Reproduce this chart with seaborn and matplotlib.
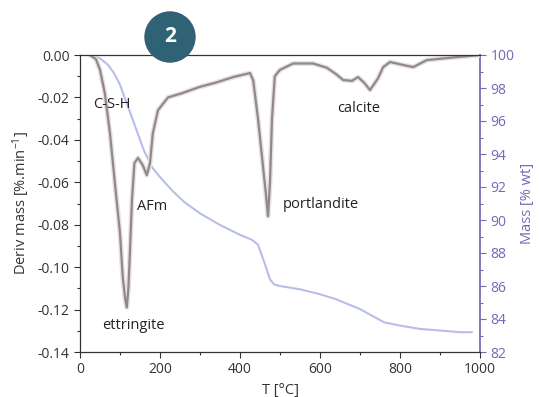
import numpy as np
import pandas as pd
import seaborn as sns
import matplotlib
matplotlib.use("Agg")
import matplotlib.pyplot as plt
from matplotlib.patches import Ellipse

# ---- data ----
deriv_T = [25, 40, 50, 62, 75, 87, 100, 107, 113, 117, 121, 125, 130, 136, 145,
           157, 167, 175, 182, 195, 220, 255, 300, 340, 383, 425, 433, 445,
           455, 465, 470, 475, 480, 487, 500, 533, 583, 617, 640, 658, 680,
           695, 710, 725, 745, 758, 775, 808, 833, 867, 925, 1000]
deriv_val = [0.0, -0.002, -0.007, -0.018, -0.037, -0.060, -0.084, -0.105, -0.115,
             -0.119, -0.110, -0.092, -0.068, -0.051, -0.0485, -0.052, -0.0566,
             -0.051, -0.037, -0.026, -0.020, -0.018, -0.015, -0.013, -0.0104,
             -0.0085, -0.012, -0.030, -0.048, -0.066, -0.076, -0.060, -0.030,
             -0.010, -0.007, -0.004, -0.004, -0.006, -0.009, -0.0118, -0.0122,
             -0.0104, -0.013, -0.0165, -0.011, -0.0057, -0.0033, -0.0047,
             -0.0057, -0.0024, -0.0013, 0.0]

mass_T = [25, 50, 70, 85, 100, 115, 130, 145, 160, 180, 200, 230, 260, 300, 350,
          400, 430, 445, 460, 475, 485, 500, 550, 600, 640, 670, 700, 730, 760,
          800, 850, 900, 950, 980]
mass_val = [100, 99.8, 99.4, 98.9, 98.2, 97.2, 96.2, 95.2, 94.2, 93.2, 92.6, 91.8,
            91.1, 90.4, 89.7, 89.1, 88.8, 88.5, 87.5, 86.4, 86.1, 86.0, 85.8, 85.5,
            85.2, 84.9, 84.6, 84.2, 83.8, 83.6, 83.4, 83.3, 83.2, 83.2]

labels = ["C-S-H", "AFm", "ettringite", "portlandite", "calcite"]
label_T = [80, 142, 133, 507, 697]
label_y = [-0.0235, -0.0715, -0.1275, -0.0705, -0.0250]
label_ha = ["center", "left", "center", "left", "center"]

sns.set_theme(style="ticks")
plt.rcParams['font.family'] = ['Open Sans', 'DejaVu Sans']
plt.rcParams['mathtext.default'] = 'regular'

dark = "#333333"
purple = "#6e6ab8"

fig = plt.figure(figsize=(5.39, 3.97), dpi=100)
ax = fig.add_axes([80/539, 45/397, 400/539, 297/397])

df_d = pd.DataFrame({"T": deriv_T, "d": deriv_val})
df_m = pd.DataFrame({"T": mass_T, "m": mass_val})

ax2 = ax.twinx()
sns.lineplot(data=df_m, x="T", y="m", ax=ax2, color="#b8bee9", lw=1.5)
ax2.set_ylim(82, 100)
ax2.set_yticks(np.arange(82, 101, 2))
ax2.set_yticks(np.arange(82, 101, 1), minor=True)
ax2.set_ylabel("Mass [% wt]", color=purple, fontsize=10.5)
ax2.tick_params(axis="y", colors=purple, labelsize=10, length=4, width=0.8)
ax2.tick_params(axis="y", which="minor", colors=purple, length=2.5, width=0.8)
ax2.spines["right"].set_color(purple)
ax2.spines["left"].set_visible(False)
ax2.spines["top"].set_visible(False)
ax2.spines["bottom"].set_visible(False)

ax.set_zorder(ax2.get_zorder() + 1)
ax.patch.set_visible(False)
sns.lineplot(data=df_d, x="T", y="d", ax=ax, color="#e6e2e2", lw=3.6)
sns.lineplot(data=df_d, x="T", y="d", ax=ax, color="#938888", lw=1.6)
ax.set_xlim(0, 1000)
ax.set_ylim(-0.14, 0.0)
ax.set_xticks(np.arange(0, 1001, 200))
ax.set_xticks(np.arange(0, 1001, 100), minor=True)
ax.set_yticks(np.arange(-0.14, 0.001, 0.02))
ax.set_yticks(np.arange(-0.14, 0.001, 0.01), minor=True)
ax.set_yticklabels([f"{v:.2f}" for v in np.arange(-0.14, 0.001, 0.02)])
ax.tick_params(axis="both", colors=dark, labelsize=10, length=4, width=0.8)
ax.tick_params(axis="both", which="minor", colors=dark, length=2.5, width=0.8)
for s in ["left", "bottom", "top"]:
    ax.spines[s].set_visible(True)
    ax.spines[s].set_color(dark)
    ax.spines[s].set_linewidth(0.9)
ax.spines["right"].set_visible(False)
ax.set_xlabel("T [°C]", fontsize=10.5, color=dark)
ax.set_ylabel("Deriv mass [%.min$^{-1}$]", fontsize=10.5, color=dark)

for t, x, y, ha in zip(labels, label_T, label_y, label_ha):
    ax.text(x, y, t, ha=ha, va="center", fontsize=10.5, color="#222222")

# badge
fig.patches.append(Ellipse((170/539, 1 - 37/397), 50/539, 50/397,
                           transform=fig.transFigure, color="#2f6274", zorder=10))
fig.text(170/539, 1 - 37/397, "2", ha="center", va="center", color="white",
         fontsize=15, fontweight="bold", zorder=11)

fig.savefig("out.png", dpi=100)
